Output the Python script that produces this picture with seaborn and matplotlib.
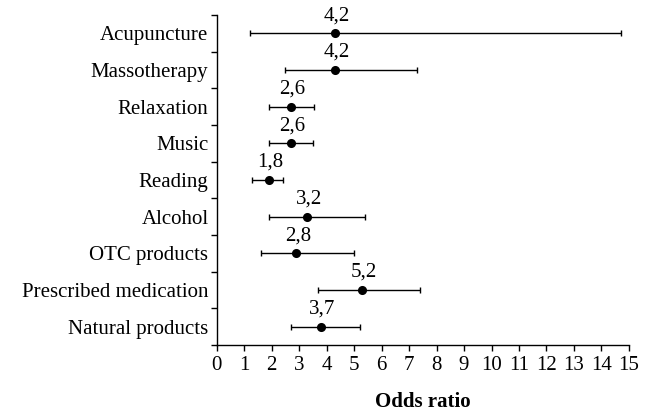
import pandas as pd
import numpy as np
import matplotlib
matplotlib.use("Agg")
import matplotlib.pyplot as plt
import seaborn as sns

# data
items = ["Acupuncture", "Massotherapy", "Relaxation", "Music", "Reading",
         "Alcohol", "OTC products", "Prescribed medication", "Natural products"]
odds = [4.3, 4.3, 2.7, 2.7, 1.9, 3.3, 2.9, 5.3, 3.8]
ci_low = [1.2, 2.5, 1.9, 1.9, 1.3, 1.9, 1.6, 3.7, 2.7]
ci_high = [14.7, 7.3, 3.55, 3.5, 2.4, 5.4, 5.0, 7.4, 5.2]
labels = ["4,2", "4,2", "2,6", "2,6", "1,8", "3,2", "2,8", "5,2", "3,7"]

df = pd.DataFrame({"item": items, "odds": odds, "low": ci_low, "high": ci_high})

sns.set_theme(style="ticks")
plt.rcParams["font.family"] = ["Liberation Serif", "DejaVu Serif"]

fig = plt.figure(figsize=(6.51, 4.12), dpi=100)
ax = fig.add_axes([0.333, 0.163, 0.633, 0.801])

# confidence intervals
ypos = np.arange(len(df))
ax.errorbar(df["odds"], ypos, xerr=[df["odds"] - df["low"], df["high"] - df["odds"]],
            fmt="none", ecolor="black", elinewidth=1, capsize=2.5, capthick=1, zorder=2)

# point estimates
sns.pointplot(data=df, x="odds", y="item", order=items, linestyle="none",
              color="black", markersize=4.5, errorbar=None, ax=ax, zorder=3)

for i, row in df.iterrows():
    ax.annotate(labels[i], (row["odds"], i), xytext=(1, 12.5), textcoords="offset points",
                ha="center", va="center", fontsize=15, color="black")

ax.set_xlim(0, 15)
ax.set_ylim(len(items) - 0.5, -0.5)
ax.set_xticks(range(0, 16))
ax.set_xticks([], minor=True)
ax.set_yticks(ypos)
ax.set_yticks(np.arange(-0.5, len(items), 1.0), minor=True)
ax.tick_params(axis="y", which="major", length=0, pad=6, labelsize=15, colors="black")
ax.tick_params(axis="y", which="minor", length=4, width=1, color="black")
ax.tick_params(axis="x", which="major", length=4, width=1, pad=4, labelsize=15, colors="black")

ax.set_ylabel("")
ax.set_xlabel("Odds ratio", fontsize=15, fontweight="bold", labelpad=12, color="black")

sns.despine(ax=ax)
for side in ["left", "bottom"]:
    ax.spines[side].set_color("black")
    ax.spines[side].set_linewidth(1)

fig.savefig("out.png", dpi=100)
